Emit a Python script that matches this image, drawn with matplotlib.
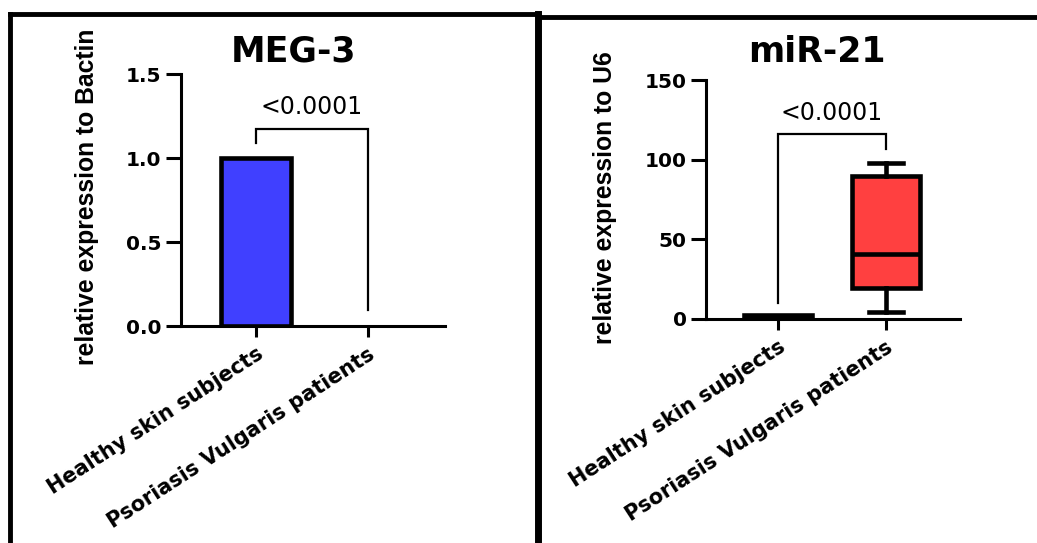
import matplotlib
matplotlib.use("Agg")
import matplotlib.pyplot as plt
from matplotlib.lines import Line2D

# data
groups = ["Healthy skin subjects", "Psoriasis Vulgaris patients"]

meg3_values = [1.0, 0.0]
meg3_ticks = [0.0, 0.5, 1.0, 1.5]
meg3_tick_labels = ["0.0", "0.5", "1.0", "1.5"]
meg3_bracket = [1.09, 1.17, 0.095]  # left leg end, top, right leg end
meg3_p = "<0.0001"

# box stats: whisker low, q1, median, q3, whisker high
mir21_healthy = [0.6, 0.6, 1.5, 2.4, 2.4]
mir21_psoriasis = [4.5, 19.5, 41.0, 90.0, 98.0]
mir21_ticks = [0, 50, 100, 150]
mir21_tick_labels = ["0", "50", "100", "150"]
mir21_bracket = [10.0, 116.0, 107.0]
mir21_p = "<0.0001"

W, H = 1037, 543
BOLD = ["DejaVu Sans"]
NARROW = ["Liberation Sans Narrow", "Liberation Sans", "DejaVu Sans"]


def px_axes(fig, x0, y_top, x1, y_bot):
    return fig.add_axes([x0 / W, (H - y_bot) / H, (x1 - x0) / W, (y_bot - y_top) / H])


def style_axes(ax, ticks, labels, ylim):
    for s in ["top", "right"]:
        ax.spines[s].set_visible(False)
    for s in ["left", "bottom"]:
        ax.spines[s].set_linewidth(2.2)
    ax.set_ylim(*ylim)
    ax.set_xlim(-0.67, 1.69)
    ax.set_yticks(ticks)
    ax.set_yticklabels(labels, fontsize=14.5, fontweight="bold", family=BOLD)
    ax.tick_params(axis="y", length=11, width=2.2, pad=3)
    ax.tick_params(axis="x", length=8, width=2.2, pad=5)
    ax.set_xticks([0, 1])
    ax.set_xticklabels(groups, rotation=33, ha="right", va="top",
                       rotation_mode="anchor", fontsize=15, fontweight="bold",
                       family=BOLD)
    ax.patch.set_visible(False)


def bracket(ax, vals, text):
    lo, top, hi = vals
    ax.plot([0, 0, 1, 1], [lo, top, top, hi], color="black", lw=1.6,
            solid_joinstyle="miter", clip_on=False)
    ymax = ax.get_ylim()[1]
    ax.text(0.5, top + ymax * 0.04, text, ha="center", va="bottom",
            fontsize=17, family=BOLD)


fig = plt.figure(figsize=(W / 100, H / 100), dpi=100)

# panel frames
frame = dict(color="black", lw=3.5, transform=fig.transFigure, solid_capstyle="projecting")
fig.add_artist(Line2D([10 / W, 10 / W], [0, 1 - 14 / H], **frame))
fig.add_artist(Line2D([10 / W, 537 / W], [1 - 14 / H, 1 - 14 / H], **frame))
fig.add_artist(Line2D([538 / W, 538 / W], [0, 1 - 14 / H], lw=5, color="black",
                      transform=fig.transFigure))
fig.add_artist(Line2D([538 / W, 1], [1 - 17 / H, 1 - 17 / H], **frame))

# MEG-3 bar chart
ax1 = px_axes(fig, 181, 74, 445, 326)
ax1.bar([0, 1], meg3_values, width=0.625, color="#4040FF", edgecolor="black",
        linewidth=[3.3 if v > 0 else 0 for v in meg3_values])
style_axes(ax1, meg3_ticks, meg3_tick_labels, (0, 1.5))
bracket(ax1, meg3_bracket, meg3_p)
fig.text(293 / W, 1 - 51 / H, "MEG-3", ha="center", va="center", fontsize=25,
         fontweight="bold", family=BOLD)
fig.text(87 / W, 1 - 197 / H, "relative expression to Bactin", rotation=90,
         ha="center", va="center", fontsize=17.8, fontweight="bold", family=NARROW)

# miR-21 box plot
ax2 = px_axes(fig, 706, 80, 960, 319)
stats = []
for name, v in zip(groups, [mir21_healthy, mir21_psoriasis]):
    stats.append(dict(label=name, whislo=v[0], q1=v[1], med=v[2], q3=v[3],
                      whishi=v[4], fliers=[]))
ax2.bxp(stats, positions=[0, 1], widths=0.63, patch_artist=True, showfliers=False,
        boxprops=dict(linewidth=3.3, edgecolor="black"),
        medianprops=dict(color="black", linewidth=3.3),
        whiskerprops=dict(color="black", linewidth=3.3),
        capprops=dict(color="black", linewidth=3.3), capwidths=[0.0, 0.32])
ax2.patches[0].set_facecolor("black")
ax2.patches[1].set_facecolor("#FF4040")
style_axes(ax2, mir21_ticks, mir21_tick_labels, (0, 150))
bracket(ax2, mir21_bracket, mir21_p)
fig.text(817 / W, 1 - 52 / H, "miR-21", ha="center", va="center", fontsize=25,
         fontweight="bold", family=BOLD)
fig.text(605 / W, 1 - 198 / H, "relative expression to U6", rotation=90,
         ha="center", va="center", fontsize=17.8, fontweight="bold", family=NARROW)

fig.savefig("out.png", dpi=100)
